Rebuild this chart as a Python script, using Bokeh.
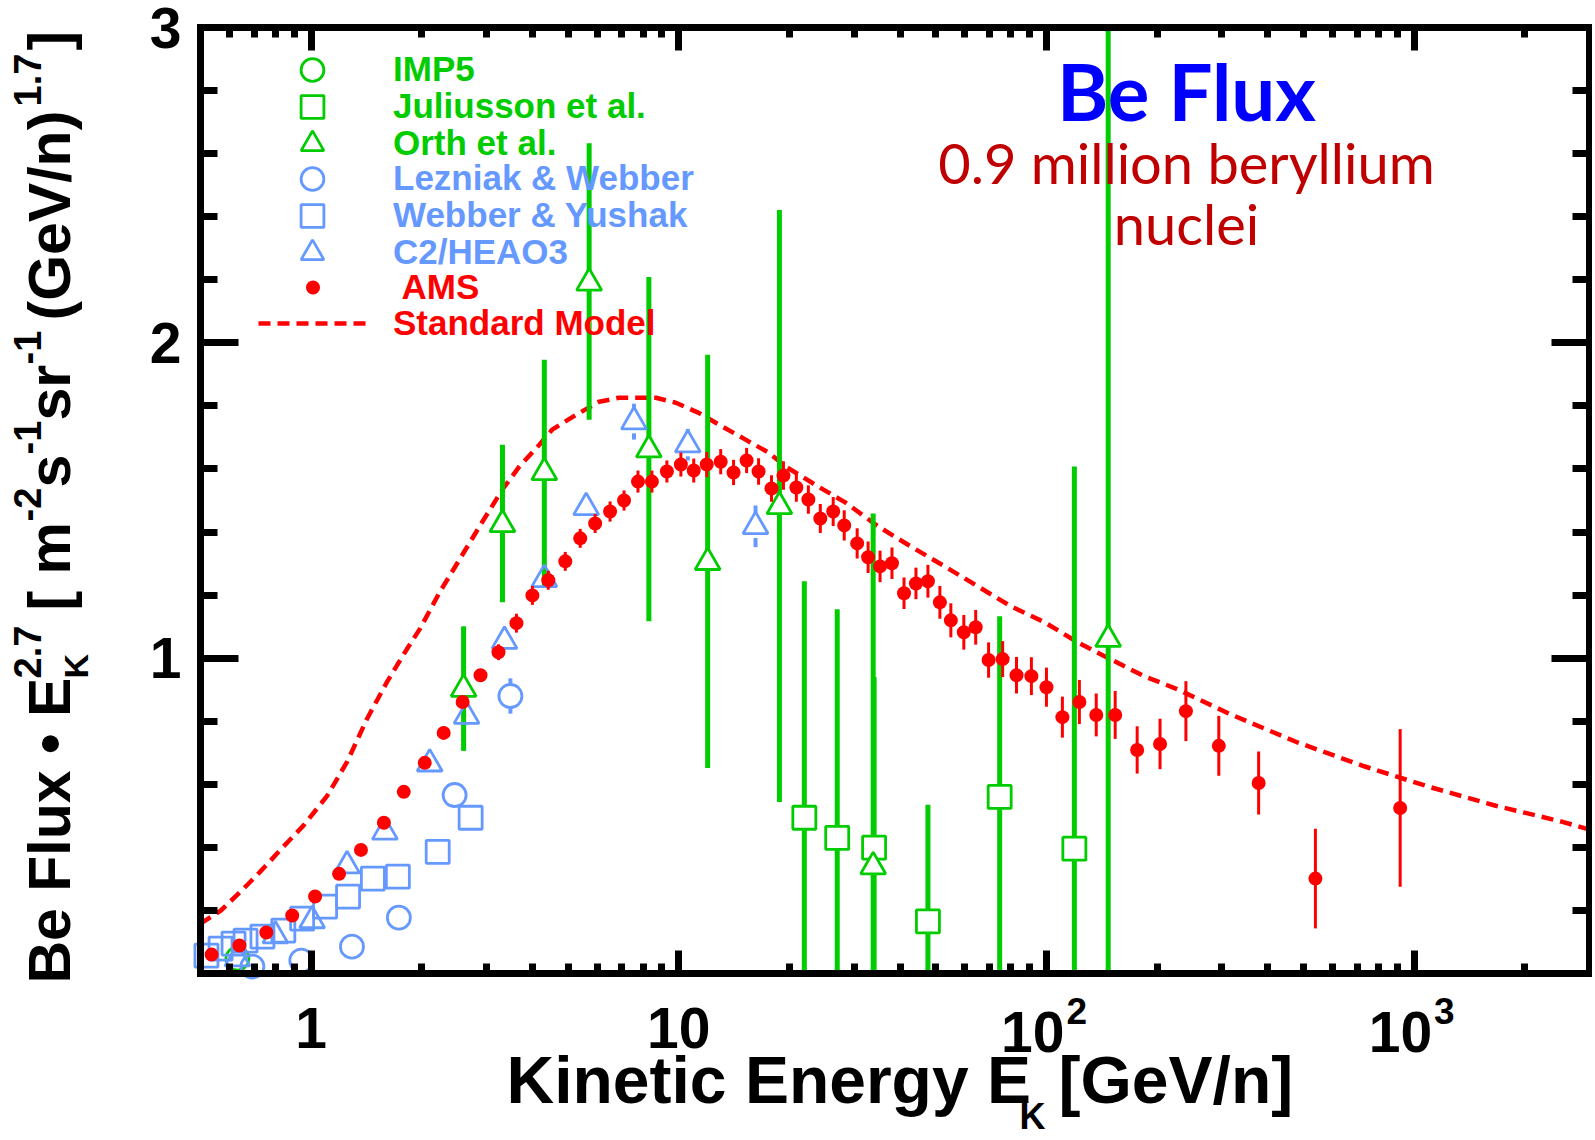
import math
from bokeh.plotting import figure
from bokeh.models import (LinearAxis, LogAxis, FixedTicker, Label, Legend, LegendItem,
                          BasicTickFormatter)
from bokeh.embed import file_html
from bokeh.resources import INLINE

# ---------------- data ----------------
ams_e = [0.536, 0.638, 0.755, 0.888, 1.025, 1.191, 1.366, 1.577, 1.786, 2.037,
         2.293, 2.582, 2.888, 3.232, 3.617, 3.997, 4.416, 4.911, 5.393, 5.921,
         6.502, 7.096, 7.743, 8.45, 9.28, 10.13, 10.98, 11.91, 13.0, 14.09,
         15.29, 16.48, 17.87, 19.26, 20.88, 22.51, 24.26, 26.3, 28.18, 30.56,
         32.73, 35.27, 38.0, 40.98, 44.16, 47.6, 51.3, 54.95, 59.6, 64.2,
         69.6, 76.0, 82.9, 91.0, 100.0, 110.5, 122.9, 136.6, 153.8, 176.5,
         203.7, 239.5, 294.3, 377.7, 539.0, 916.5]
ams_f = [0.060, 0.089, 0.130, 0.184, 0.244, 0.316, 0.392, 0.478, 0.576, 0.668,
         0.763, 0.861, 0.946, 1.019, 1.111, 1.199, 1.247, 1.307, 1.380, 1.427,
         1.465, 1.500, 1.560, 1.560, 1.592, 1.614, 1.595, 1.614, 1.623, 1.589,
         1.627, 1.592, 1.538, 1.579, 1.541, 1.503, 1.443, 1.465, 1.421, 1.364,
         1.320, 1.291, 1.301, 1.206, 1.237, 1.244, 1.177, 1.120, 1.082, 1.098,
         0.994, 0.997, 0.946, 0.943, 0.908, 0.813, 0.861, 0.820, 0.820, 0.709,
         0.728, 0.832, 0.722, 0.604, 0.301, 0.525]
ams_err = [0.01, 0.01, 0.01, 0.01, 0.01, 0.01, 0.012, 0.012, 0.015, 0.015,
           0.02, 0.02, 0.02, 0.025, 0.03, 0.03, 0.03, 0.03, 0.03, 0.03,
           0.032, 0.032, 0.035, 0.035, 0.035, 0.038, 0.038, 0.04, 0.04, 0.04,
           0.04, 0.042, 0.042, 0.045, 0.045, 0.045, 0.046, 0.046, 0.048, 0.048,
           0.05, 0.05, 0.05, 0.05, 0.05, 0.052, 0.052, 0.054, 0.055, 0.055,
           0.056, 0.057, 0.058, 0.06, 0.062, 0.065, 0.07, 0.068, 0.076, 0.075,
           0.08, 0.095, 0.095, 0.10, 0.158, 0.25]

model_e = [0.5, 0.567, 0.642, 0.727, 0.840, 0.951, 1.105, 1.252, 1.418, 1.607,
           1.820, 1.974, 2.236, 2.533, 2.871, 3.314, 3.685, 4.175, 4.527, 5.259,
           6.07, 6.877, 8.664, 9.815, 11.33, 12.84, 15.19, 17.54, 19.5, 23.96,
           28.36, 34.83, 42.8, 52.9, 65.0, 79.9, 98.8, 121.3, 149.1, 184.3,
           226.5, 315.2, 478.8, 727.6, 1098.0, 1668.0, 2534.0, 3000.0]
model_f = [0.158, 0.199, 0.259, 0.323, 0.402, 0.468, 0.563, 0.671, 0.807, 0.924,
           1.028, 1.092, 1.209, 1.313, 1.418, 1.535, 1.608, 1.677, 1.725, 1.772,
           1.813, 1.826, 1.826, 1.810, 1.778, 1.741, 1.693, 1.652, 1.608, 1.544,
           1.494, 1.418, 1.354, 1.291, 1.228, 1.165, 1.114, 1.051, 0.997, 0.943,
           0.902, 0.823, 0.734, 0.658, 0.592, 0.532, 0.481, 0.456]

imp5_e = [0.63]
imp5_f = [0.047]

jul_e = [21.95, 26.97, 33.98, 47.6, 74.6, 119.1]
jul_f = [0.494, 0.430, 0.399, 0.165, 0.560, 0.396]
jul_hi = [1.244, 1.155, 0.94, 0.535, 1.133, 1.608]
jul_lo = [0.0, 0.0, 0.0, 0.0, 0.0, 0.0]

orth_e = [2.598, 3.314, 4.307, 5.703, 8.29, 11.98, 18.78, 33.78, 147.2]
orth_f = [0.902, 1.424, 1.589, 2.190, 1.661, 1.304, 1.481, 0.339, 1.060]
orth_hi = [1.101, 1.677, 1.946, 2.633, 2.209, 1.962, 2.421, 1.459, 3.0]
orth_lo = [0.706, 1.177, 1.228, 1.756, 1.117, 0.652, 0.544, 0.0, 0.0]

lez_e = [0.692, 0.940, 1.291, 1.732, 2.456, 3.483]
lez_f = [0.022, 0.041, 0.085, 0.177, 0.566, 0.880]
lez_err = [0.0, 0.0, 0.0, 0.0, 0.0, 0.056]

wy_e = [0.519, 0.567, 0.615, 0.663, 0.737, 0.840, 0.945, 1.091, 1.260, 1.472,
        1.721, 2.209, 2.715]
wy_f = [0.057, 0.079, 0.095, 0.104, 0.117, 0.136, 0.174, 0.212, 0.244, 0.301,
        0.307, 0.386, 0.494]

heao_e = [0.630, 0.799, 1.006, 1.252, 1.587, 2.101, 2.647, 3.356, 4.307, 5.598,
          7.551, 10.58, 16.17]
heao_f = [0.047, 0.120, 0.168, 0.342, 0.449, 0.665, 0.816, 1.054, 1.250, 1.478,
          1.750, 1.677, 1.418]
heao_err = [0, 0, 0, 0, 0, 0, 0, 0, 0, 0, 0.057, 0.05, 0.066]

x_lim = (0.5, 3000.0)
y_lim = (0.0, 3.0)
x_major = [1, 10, 100, 1000]
x_minor = [0.6, 0.7, 0.8, 0.9, 2, 3, 4, 5, 6, 7, 8, 9, 20, 30, 40, 50, 60, 70, 80, 90,
           200, 300, 400, 500, 600, 700, 800, 900, 2000]
y_major = [1, 2, 3]
y_minor = [0.2, 0.4, 0.6, 0.8, 1.2, 1.4, 1.6, 1.8, 2.2, 2.4, 2.6, 2.8]

legend_labels = ["IMP5", "Juliusson et al.", "Orth et al.", "Lezniak & Webber",
                 "Webber & Yushak", "C2/HEAO3", "AMS", "Standard Model"]

# ---------------- styles / geometry ----------------
GREEN = "#00CC00"
BLUE = "#6699FF"
RED = "#FF0000"
DARKRED = "#C00000"
TBLUE = "#0000FF"
AX_FONT = "Liberation Sans"

W, H = 1592, 1138
CL, CT = 0, 0                       # canvas origin on the page
CR, CB = CL + W, CT + H
BL, BR, BT, BB = 200, 1589, 27, 973  # plot box on the page

dlx = (math.log10(x_lim[1]) - math.log10(x_lim[0])) / (BR - BL)
x_rng = (10 ** (math.log10(x_lim[0]) - (BL - CL) * dlx),
         10 ** (math.log10(x_lim[1]) + (CR - BR) * dlx))
dly = (y_lim[1] - y_lim[0]) / (BB - BT)
y_rng = (y_lim[0] - (CB - BB) * dly, y_lim[1] + (BT - CT) * dly)

p = figure(width=W, height=H, x_axis_type="log", x_range=x_rng, y_range=y_rng,
           output_backend="svg", toolbar_location=None,
           min_border_left=0, min_border_right=0, min_border_top=0, min_border_bottom=0)
p.title.visible = False
p.grid.visible = False
p.outline_line_color = None
p.background_fill_color = "white"
p.border_fill_color = "white"

bottom = p.below[0]
left = p.left[0]
right = LinearAxis()
top = LogAxis()
p.add_layout(right, "right")
p.add_layout(top, "above")

left.fixed_location = x_lim[0]
right.fixed_location = x_lim[1]
bottom.fixed_location = y_lim[0]
top.fixed_location = y_lim[1]

for ax in [left, right]:
    ax.ticker = FixedTicker(ticks=y_major, minor_ticks=y_minor)
    ax.bounds = y_lim
    ax.major_tick_in = 38
    ax.minor_tick_in = 17
for ax in [bottom, top]:
    ax.ticker = FixedTicker(ticks=x_major, minor_ticks=x_minor)
    ax.bounds = x_lim
    ax.major_tick_in = 23
    ax.minor_tick_in = 10
    ax.formatter = BasicTickFormatter()
for ax in [left, right, bottom, top]:
    ax.major_tick_out = 0
    ax.minor_tick_out = 0
    ax.major_tick_line_width = 7
    ax.minor_tick_line_width = 7
    ax.axis_line_width = 7
    ax.axis_line_color = "black"
    ax.axis_line_cap = "square"
    ax.major_label_text_font = AX_FONT
    ax.major_label_text_font_style = "bold"
    ax.major_label_text_color = "black"
    ax.axis_label = None
for ax in [right, top]:
    ax.major_label_text_color = None

left.major_label_text_font_size = "57px"
left.major_label_standoff = 19
bottom.major_label_text_font_size = "57px"
bottom.major_label_standoff = 34
bottom.major_label_overrides = {1: "1", 10: "10", 100: "", 1000: ""}

# ---------------- glyphs ----------------
r_model = p.line(model_e, model_f, line_color=RED, line_width=4.5, line_dash="12 7")

p.segment(x0=orth_e, y0=orth_lo, x1=orth_e, y1=orth_hi, line_color=GREEN, line_width=5)
p.segment(x0=jul_e, y0=jul_lo, x1=jul_e, y1=jul_hi, line_color=GREEN, line_width=5)

r_imp5 = p.scatter(imp5_e, imp5_f, marker="circle", size=23, line_color=GREEN,
                   line_width=2.8, fill_color=None)
r_jul = p.scatter(jul_e, jul_f, marker="square", size=23, line_color=GREEN,
                  line_width=2.8, fill_color="white")
r_orth = p.scatter(orth_e, orth_f, marker="triangle", size=25, line_color=GREEN,
                   line_width=2.8, fill_color="white")

GAP = 0.037
for es, fs, errs in [(lez_e, lez_f, lez_err), (heao_e, heao_f, heao_err)]:
    idx = [i for i in range(len(es)) if errs[i] > 0]
    xe = [es[i] for i in idx]
    p.segment(x0=xe, x1=xe, y0=[fs[i] + GAP for i in idx], y1=[fs[i] + errs[i] for i in idx],
              line_color=BLUE, line_width=4)
    p.segment(x0=xe, x1=xe, y0=[fs[i] - errs[i] for i in idx], y1=[fs[i] - GAP for i in idx],
              line_color=BLUE, line_width=4)

r_lez = p.scatter(lez_e, lez_f, marker="circle", size=23, line_color=BLUE,
                  line_width=2.8, fill_color=None)
r_wy = p.scatter(wy_e, wy_f, marker="square", size=23, line_color=BLUE,
                 line_width=2.8, fill_color=None)
r_heao = p.scatter(heao_e, heao_f, marker="triangle", size=25, line_color=BLUE,
                   line_width=2.8, fill_color=None)

p.segment(x0=ams_e, x1=ams_e, y0=[f - e for f, e in zip(ams_f, ams_err)],
          y1=[f + e for f, e in zip(ams_f, ams_err)], line_color=RED, line_width=3)
r_ams = p.scatter(ams_e, ams_f, marker="circle", size=14, fill_color=RED, line_color=None)

# ---------------- legend (one per entry, to colour each label) ----------------
leg_rows = [69, 106, 143, 178, 215, 252, 287, 323]
leg_colors = [GREEN, GREEN, GREEN, BLUE, BLUE, BLUE, RED, RED]
leg_rend = [r_imp5, r_jul, r_orth, r_lez, r_wy, r_heao, r_ams, r_model]
for lab_txt, rend, Y, col in zip(legend_labels, leg_rend, leg_rows, leg_colors):
    if rend is r_ams:
        gw, gh, tx = 35, 44, 402
    elif rend is r_model:
        gw, gh, tx = 108, 40, 393
    else:
        gw, gh, tx = 108, 57, 393
    x0 = 312 - gw / 2
    leg = Legend(items=[LegendItem(label=lab_txt, renderers=[rend])],
                 location=(x0 - CL, CB - Y - gh / 2),
                 glyph_width=gw, glyph_height=gh, label_height=gh, label_width=10,
                 label_standoff=int(tx - (x0 + gw)), padding=0, margin=0, spacing=0,
                 border_line_color=None, background_fill_alpha=0,
                 label_text_font=AX_FONT, label_text_font_style="bold",
                 label_text_font_size="35px", label_text_color=col)
    p.add_layout(leg)


# ---------------- text ----------------
K_MID = 0.37  # distance from text middle to its baseline, in em


def lab(text, X, Y, size, color="black", rotated=False, align="left",
        font=AX_FONT, style="bold"):
    """X, Y: page position of the text's baseline start (or baseline centre)."""
    if rotated:
        ax_, ay_ = X - K_MID * size, Y
    else:
        ax_, ay_ = X, Y - K_MID * size
    p.add_layout(Label(x=ax_ - CL, y=CB - ay_, x_units="screen", y_units="screen", text=text,
                       angle=math.pi / 2 if rotated else 0.0, text_align=align,
                       text_baseline="middle",
                       text_font_size=f"{size}px", text_font=font, text_font_style=style,
                       text_color=color))


# y-axis title
lab("Be Flux \u2022 E", 71, 983, 59, rotated=True)
lab("2.7", 41, 678, 38, rotated=True)
lab("K", 88, 678, 34, rotated=True)
lab("[ m", 71, 610, 59, rotated=True)
lab("-2", 41, 521, 38, rotated=True)
lab("s", 71, 487, 59, rotated=True)
lab("-1", 41, 454, 38, rotated=True)
lab("sr", 71, 420, 59, rotated=True)
lab("-1", 41, 364, 38, rotated=True)
lab("(GeV/n)", 71, 320, 59, rotated=True)
lab("1.7", 41, 106, 38, rotated=True)
lab("]", 71, 50, 59, rotated=True)

# x-axis title
lab("Kinetic Energy E", 506, 1104, 66)
lab("K", 1019, 1129, 36)
lab("[GeV/n]", 1058, 1104, 66)

# 10^2, 10^3 tick labels
for tv, ex in [(100, "2"), (1000, "3")]:
    p.add_layout(Label(x=tv, y=CB - (1053 - K_MID * 57), x_units="data", y_units="screen",
                       x_offset=18, text="10", text_align="right", text_baseline="middle",
                       text_font_size="57px", text_font=AX_FONT, text_font_style="bold",
                       text_color="black"))
    p.add_layout(Label(x=tv, y=CB - (1024 - K_MID * 37), x_units="data", y_units="screen",
                       x_offset=20, text=ex, text_align="left", text_baseline="middle",
                       text_font_size="37px", text_font=AX_FONT, text_font_style="bold",
                       text_color="black"))

# chart titles
lab("Be Flux", 1186, 119, 78, color=TBLUE, align="center", font="Lato")
lab("0.9 million beryllium", 1186, 183, 56, color=DARKRED, align="center", font="Lato",
    style="normal")
lab("nuclei", 1186, 244, 56, color=DARKRED, align="center", font="Lato", style="normal")

open("out.html", "w").write(file_html(p, INLINE))
